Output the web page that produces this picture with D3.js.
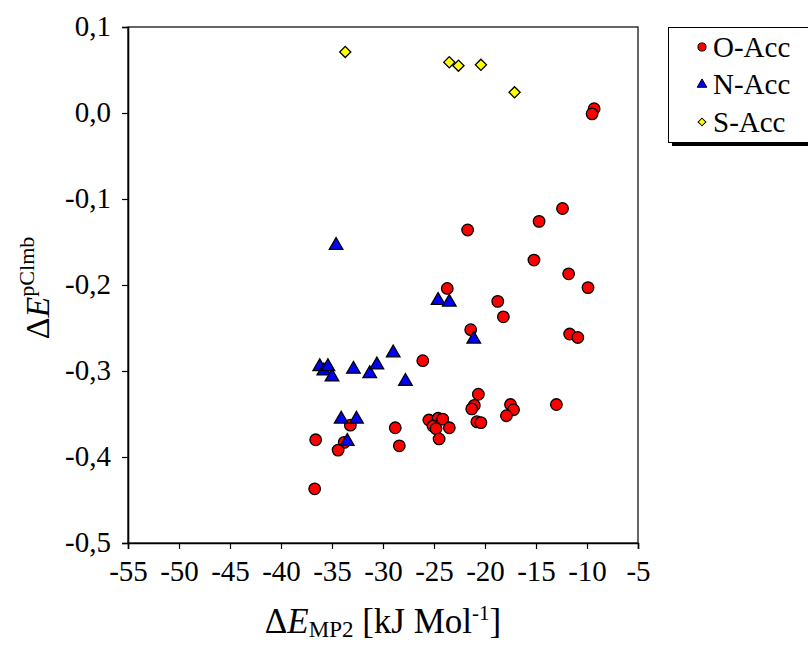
<!DOCTYPE html>
<html>
<head>
<meta charset="utf-8">
<script src="https://cdn.jsdelivr.net/npm/d3@7"></script>
<style>
  html, body { margin: 0; padding: 0; background: #fff; }
  svg { display: block; }
  text { font-family: "Liberation Serif", "Times New Roman", serif; fill: #000; }
</style>
</head>
<body>
<svg id="chart" width="808" height="646"></svg>
<script>
// O-acceptor complexes: [ΔE_MP2 (kJ/mol), ΔE_pClmb]
const oAcc = [
  [-9.3, 0.005], [-9.5, -0.001], [-12.4, -0.111], [-14.7, -0.126], [-21.7, -0.136],
  [-15.2, -0.171], [-11.8, -0.187], [-9.9, -0.203], [-23.7, -0.204], [-18.75, -0.219],
  [-18.2, -0.237], [-21.4, -0.252], [-11.7, -0.257], [-10.9, -0.261], [-26.1, -0.288],
  [-20.65, -0.327], [-21.05, -0.340], [-21.3, -0.344], [-20.8, -0.359], [-20.4, -0.360],
  [-17.5, -0.339], [-17.2, -0.345], [-17.9, -0.352], [-13.0, -0.339], [-25.5, -0.357],
  [-24.6, -0.355], [-24.15, -0.356], [-25.1, -0.364], [-24.8, -0.367], [-23.5, -0.366],
  [-24.5, -0.379], [-28.8, -0.366], [-28.4, -0.387], [-33.2, -0.363], [-36.6, -0.380],
  [-33.8, -0.383], [-34.4, -0.392], [-36.7, -0.437]
];
// N-acceptor complexes
const nAcc = [
  [-34.6, -0.154], [-36.2, -0.295], [-35.8, -0.300], [-35.4, -0.295], [-35.0, -0.307],
  [-32.9, -0.298], [-31.3, -0.303], [-30.6, -0.293], [-34.1, -0.356], [-32.6, -0.356],
  [-33.5, -0.382], [-24.6, -0.218], [-23.5, -0.220], [-21.1, -0.263], [-29.0, -0.279],
  [-27.8, -0.312]
];
// S-acceptor complexes
const sAcc = [
  [-33.7, 0.071], [-23.5, 0.059], [-22.6, 0.055], [-20.4, 0.056], [-17.1, 0.024]
];

const xTicks = [-55, -50, -45, -40, -35, -30, -25, -20, -15, -10, -5];
const yTicks = [0.1, 0.0, -0.1, -0.2, -0.3, -0.4, -0.5];
const seriesNames = ["O-Acc", "N-Acc", "S-Acc"];

const svg = d3.select("#chart");
const plot = { left: 128, right: 638, top: 27, bottom: 543 };

const x = d3.scaleLinear().domain([-55, -5]).range([plot.left, plot.right]);
const y = d3.scaleLinear().domain([-0.5, 0.1]).range([plot.bottom, plot.top]);

// plot frame
svg.append("rect")
  .attr("x", plot.left).attr("y", plot.top)
  .attr("width", plot.right - plot.left).attr("height", plot.bottom - plot.top)
  .attr("fill", "none").attr("stroke", "#000").attr("stroke-width", 1.2);

const fmt = v => d3.format(".1f")(v).replace(".", ",").replace("−", "-");

// y axis
const yAxis = svg.append("g")
  .attr("transform", `translate(${plot.left},0)`)
  .call(d3.axisLeft(y).tickValues(yTicks).tickSize(6).tickPadding(11).tickFormat(fmt));
// x axis
const xAxis = svg.append("g")
  .attr("transform", `translate(0,${plot.bottom})`)
  .call(d3.axisBottom(x).tickValues(xTicks).tickSize(6).tickPadding(14).tickFormat(d => String(d)));

[yAxis, xAxis].forEach(g => {
  g.attr("font-family", null).attr("font-size", null);
  g.select(".domain").attr("stroke", "#000").attr("stroke-width", 1.6);
  g.selectAll(".tick line").attr("stroke", "#000").attr("stroke-width", 1.2);
  g.selectAll(".tick text")
    .style("font-family", "'Liberation Serif', serif")
    .style("font-size", "29px")
    .attr("fill", "#000");
});
yAxis.selectAll(".tick text").attr("dy", "0.3em");
xAxis.selectAll(".tick text").attr("dy", "0.62em");

// marker shapes
const circle = d3.symbol().type(d3.symbolCircle).size(105);
const triangle = d3.symbol().type(d3.symbolTriangle).size(80);
const diamond = d3.symbol().type(d3.symbolSquare).size(62);

const series = [
  { name: seriesNames[0], data: oAcc, sym: circle, fill: "#ff0000", rot: 0 },
  { name: seriesNames[1], data: nAcc, sym: triangle, fill: "#0000ff", rot: 0 },
  { name: seriesNames[2], data: sAcc, sym: diamond, fill: "#ffff00", rot: 45 }
];

series.forEach(s => {
  svg.append("g").selectAll("path").data(s.data).join("path")
    .attr("d", s.sym())
    .attr("transform", d => `translate(${x(d[0])},${y(d[1])}) rotate(${s.rot})`)
    .attr("fill", s.fill)
    .attr("stroke", "#000")
    .attr("stroke-width", 1.3);
});

// legend with drop shadow
const lg = svg.append("g");
lg.append("rect").attr("x", 672).attr("y", 31).attr("width", 140).attr("height", 115).attr("fill", "#000");
lg.append("rect").attr("x", 668.5).attr("y", 27.5).attr("width", 145).attr("height", 115)
  .attr("fill", "#fff").attr("stroke", "#000").attr("stroke-width", 1);
const legSym = [
  d3.symbol().type(d3.symbolCircle).size(52),
  d3.symbol().type(d3.symbolTriangle).size(40),
  d3.symbol().type(d3.symbolSquare).size(30)
];
series.forEach((s, i) => {
  const cy = 47 + i * 37.5;
  lg.append("path").attr("d", legSym[i]())
    .attr("transform", `translate(702,${cy}) rotate(${s.rot})`)
    .attr("fill", s.fill).attr("stroke", "#000").attr("stroke-width", 1);
  lg.append("text").attr("x", 713).attr("y", cy).attr("dy", "0.34em")
    .style("font-size", "29px").text(s.name);
});

// x axis title: ΔE_MP2 [kJ Mol^-1]
const xt = svg.append("text").attr("x", 383).attr("y", 633).attr("text-anchor", "middle").style("font-size", "35px");
xt.append("tspan").text("Δ");
xt.append("tspan").attr("font-style", "italic").text("E");
xt.append("tspan").style("font-size", "23px").attr("dy", 4).text("MP2");
xt.append("tspan").attr("dy", -4).text(" [kJ Mol");
xt.append("tspan").style("font-size", "21px").attr("dy", -13).text("-1");
xt.append("tspan").attr("dy", 13).text("]");

// y axis title: ΔE^pClmb
const yt = svg.append("text")
  .attr("transform", "translate(49,288) rotate(-90)")
  .attr("text-anchor", "middle").style("font-size", "34px");
yt.append("tspan").text("Δ");
yt.append("tspan").attr("font-style", "italic").text("E");
yt.append("tspan").style("font-size", "22px").attr("dy", -15).text("pClmb");
</script>
</body>
</html>
